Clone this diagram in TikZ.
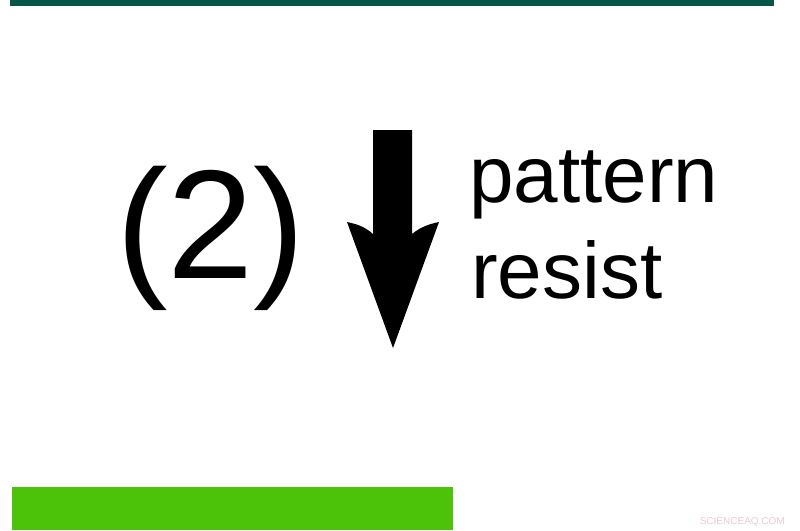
\documentclass[tikz,border=0pt]{standalone}
\usepackage{fontspec}
\setmainfont{Liberation Sans}
\definecolor{topbar}{RGB}{5,85,72}
\definecolor{greenbar}{RGB}{76,195,8}
\definecolor{wmark}{RGB}{236,200,210}
\tikzset{
  bigtxt/.style={anchor=base west, inner sep=0pt, font=\fontsize{155}{155}\selectfont},
  labtxt/.style={anchor=base west, inner sep=0pt, font=\fontsize{80}{80}\selectfont},
}
\begin{document}
\begin{tikzpicture}[x=1pt,y=-1pt]
\useasboundingbox (0,0) rectangle (800,530);
\fill[topbar] (10,0) rectangle (774,6);
\fill[greenbar] (12,487) rectangle (453,530);
\node[bigtxt] (num) at (116,278) {(2)};
\node[labtxt] (l1) at (469,202) {pattern};
\node[labtxt] (l2) at (471,298) {resist};
\fill[black] (373,130) -- (412,130) -- (412,234)
  .. controls (422,226) and (430,224) .. (439,222)
  -- (393,348) -- (347,222)
  .. controls (356,224) and (364,226) .. (373,234) -- cycle;
\node[anchor=base east, inner sep=0pt, text=wmark, font=\fontsize{10}{10}\selectfont] (wm) at (785,524) {SCIENCEAQ.COM};
\end{tikzpicture}
\end{document}
